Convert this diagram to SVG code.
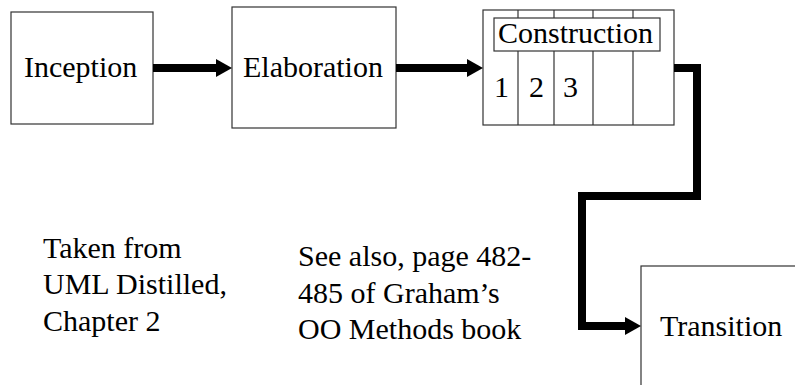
<svg xmlns="http://www.w3.org/2000/svg" width="795" height="385" viewBox="0 0 795 385">
<style>
.box{fill:#fff;stroke:#333;stroke-width:1.2}
.t{font-size:30px;fill:#000}
.c{fill:none;stroke:#000;stroke-width:8;stroke-linejoin:miter}
</style>
<defs>
<marker id="ah" markerUnits="userSpaceOnUse" markerWidth="16" markerHeight="18" refX="0" refY="9" orient="auto" overflow="visible">
<path d="M0,0 L16,9 L0,18 z" fill="#000"/>
</marker>
</defs>
<rect width="795" height="385" fill="#fff"/>
<g font-family="'Liberation Serif', Tinos, 'Times New Roman', 'DejaVu Serif', serif">
<g id="inception">
<rect class="box" x="11" y="12" width="142" height="112"/>
<text class="t" x="24" y="77">Inception</text>
</g>
<g id="elaboration">
<rect class="box" x="232" y="7" width="164" height="121"/>
<text class="t" x="243" y="77">Elaboration</text>
</g>
<g id="construction">
<rect class="box" x="483" y="10" width="191" height="115"/>
<line class="box" x1="518" y1="10" x2="518" y2="125"/>
<line class="box" x1="554" y1="10" x2="554" y2="125"/>
<line class="box" x1="593" y1="10" x2="593" y2="125"/>
<line class="box" x1="633" y1="10" x2="633" y2="125"/>
<rect class="box" x="494" y="18" width="166" height="33"/>
<text class="t" x="498" y="43">Construction</text>
<text class="t" x="494" y="97">1</text>
<text class="t" x="529" y="97">2</text>
<text class="t" x="563" y="97">3</text>
</g>
<g id="transition">
<rect class="box" x="641" y="266" width="170" height="140"/>
<text class="t" x="660" y="336">Transition</text>
</g>
<g id="notes">
<text class="t" x="43" y="258">Taken from</text>
<text class="t" x="43" y="294">UML Distilled,</text>
<text class="t" x="43" y="331">Chapter 2</text>
<text class="t" x="298" y="266">See also, page 482-</text>
<text class="t" x="298" y="303">485 of Graham’s</text>
<text class="t" x="298" y="339">OO Methods book</text>
</g>
</g>
<g id="connectors">
<path class="c" d="M153,68 H216" marker-end="url(#ah)"/>
<path class="c" d="M396,68 H467" marker-end="url(#ah)"/>
<path class="c" d="M674,68 H697 V196 H582 V326 H625" marker-end="url(#ah)"/>
</g>
</svg>
